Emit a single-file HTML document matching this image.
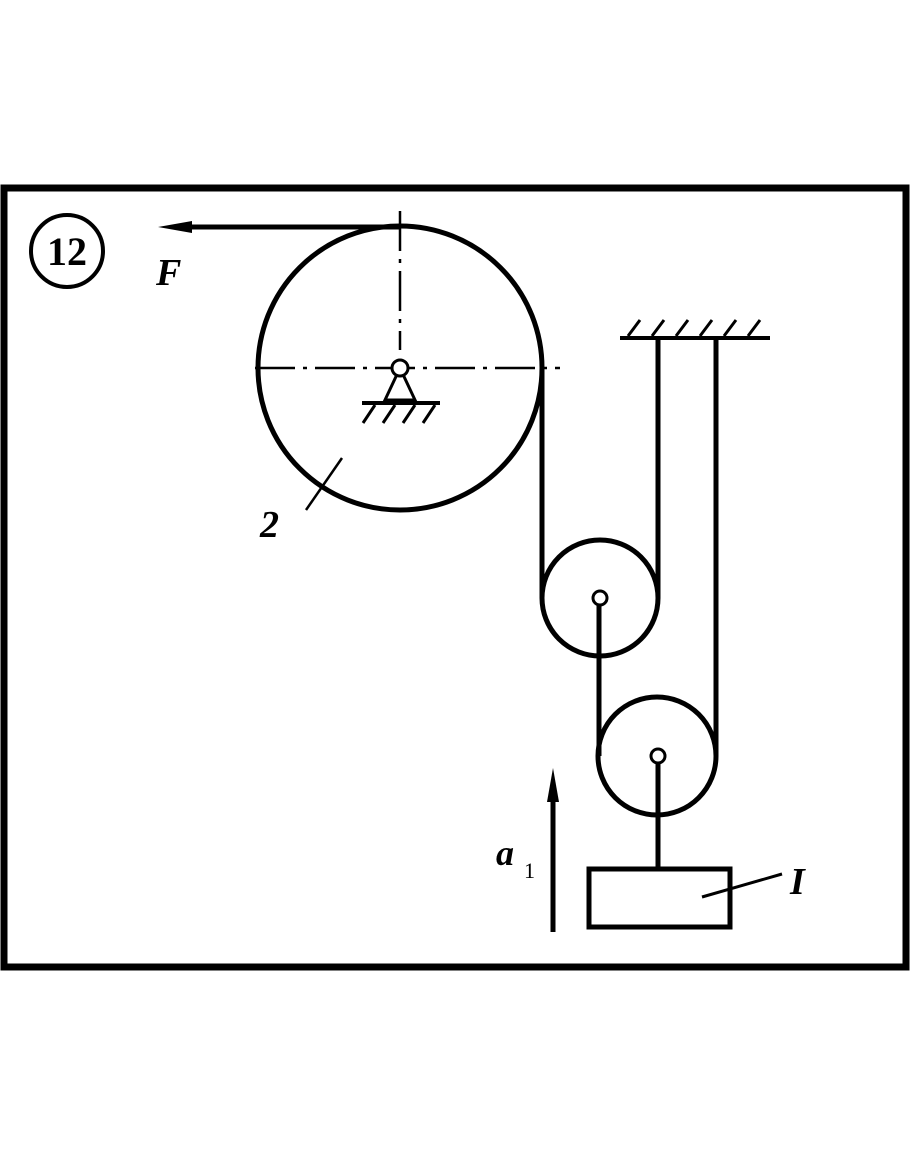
<!DOCTYPE html>
<html><head><style>body{margin:0;background:#fff}svg{display:block}</style></head><body>
<svg width="910" height="1155" viewBox="0 0 910 1155" xmlns="http://www.w3.org/2000/svg">
<rect x="0" y="0" width="910" height="1155" fill="#fff"/>
<rect x="4" y="188" width="902" height="779" fill="none" stroke="#000" stroke-width="7"/>
<!-- label 12 -->
<circle cx="67" cy="251" r="36" fill="none" stroke="#000" stroke-width="4"/>
<text x="67" y="265" font-family="Liberation Serif, serif" font-weight="bold" font-size="40" text-anchor="middle">12</text>
<!-- F arrow -->
<line x1="175" y1="227" x2="400" y2="227" stroke="#000" stroke-width="5"/>
<polygon points="158,227 192,221 192,233" fill="#000"/>
<text x="156" y="285" font-family="Liberation Serif, serif" font-style="italic" font-weight="bold" font-size="38">F</text>
<!-- big wheel -->
<circle cx="400" cy="368" r="142" fill="none" stroke="#000" stroke-width="5"/>
<path d="M400 211 V350 M255 368 H560" stroke="#000" stroke-width="2.5" stroke-dasharray="40,8,4,8" fill="none"/>
<!-- support -->
<polygon points="400,368 385,400 415,400" fill="#fff" stroke="#000" stroke-width="3"/>
<circle cx="400" cy="368" r="8" fill="#fff" stroke="#000" stroke-width="3"/>
<line x1="362" y1="403" x2="440" y2="403" stroke="#000" stroke-width="4"/>
<path d="M375 405 l-12 18 M395 405 l-12 18 M415 405 l-12 18 M435 405 l-12 18" stroke="#000" stroke-width="3"/>
<text x="260" y="537" font-family="Liberation Serif, serif" font-style="italic" font-weight="bold" font-size="38">2</text>
<line x1="306" y1="510" x2="342" y2="458" stroke="#000" stroke-width="2.5"/>
<!-- ceiling -->
<line x1="620" y1="338" x2="770" y2="338" stroke="#000" stroke-width="4"/>
<path d="M628 336 l12 -16 M652 336 l12 -16 M676 336 l12 -16 M700 336 l12 -16 M724 336 l12 -16 M748 336 l12 -16" stroke="#000" stroke-width="3"/>
<!-- ropes -->
<line x1="542" y1="368" x2="542" y2="598" stroke="#000" stroke-width="5"/>
<line x1="658" y1="338" x2="658" y2="598" stroke="#000" stroke-width="5"/>
<line x1="716" y1="338" x2="716" y2="756" stroke="#000" stroke-width="5"/>
<line x1="599" y1="598" x2="599" y2="756" stroke="#000" stroke-width="5"/>
<!-- pulley 1 -->
<circle cx="600" cy="598" r="58" fill="none" stroke="#000" stroke-width="5"/>
<circle cx="600" cy="598" r="7" fill="#fff" stroke="#000" stroke-width="3"/>
<!-- pulley 2 -->
<circle cx="657" cy="756" r="59" fill="none" stroke="#000" stroke-width="5"/>
<line x1="658" y1="763" x2="658" y2="870" stroke="#000" stroke-width="5"/>
<circle cx="658" cy="756" r="7" fill="#fff" stroke="#000" stroke-width="3"/>
<!-- block -->
<rect x="589" y="869" width="141" height="58" fill="none" stroke="#000" stroke-width="5"/>
<line x1="702" y1="897" x2="782" y2="874" stroke="#000" stroke-width="3"/>
<text x="790" y="894" font-family="Liberation Serif, serif" font-style="italic" font-weight="bold" font-size="38">I</text>
<!-- a1 arrow -->
<line x1="553" y1="932" x2="553" y2="790" stroke="#000" stroke-width="5"/>
<polygon points="553,768 547,802 559,802" fill="#000"/>
<text x="496" y="865" font-family="Liberation Serif, serif" font-style="italic" font-weight="bold" font-size="36">a</text>
<text x="524" y="878" font-family="Liberation Serif, serif" font-size="22">1</text>
</svg>
</body></html>
